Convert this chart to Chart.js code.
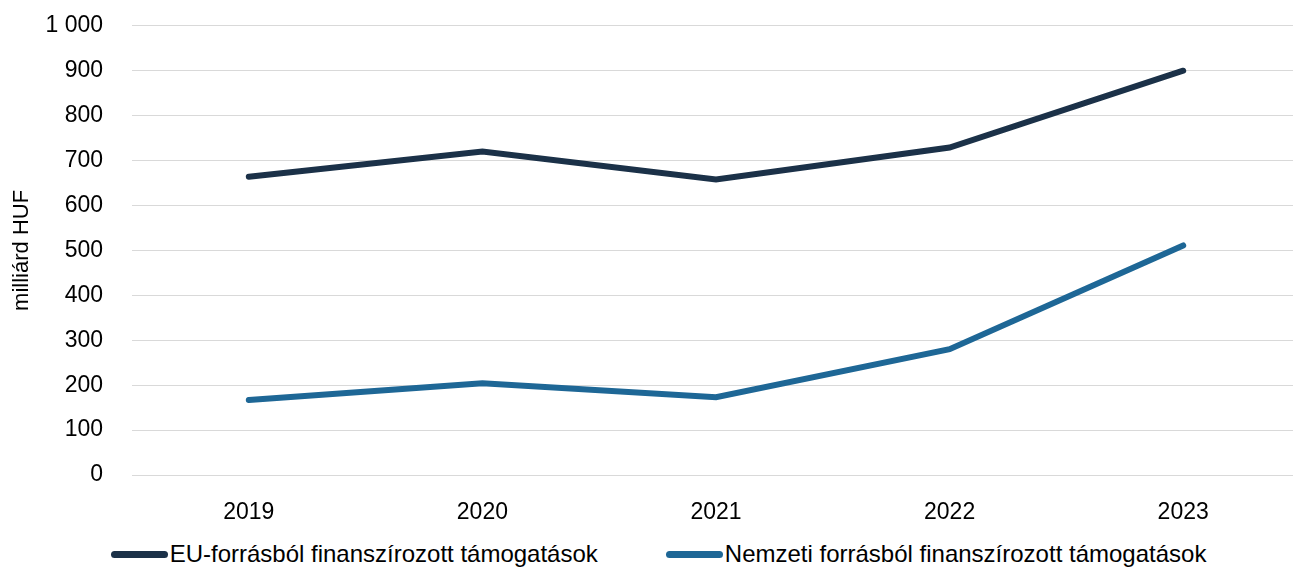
<!DOCTYPE html>
<html>
<head>
<meta charset="utf-8">
<script src="https://cdn.jsdelivr.net/npm/chart.js@4"></script>
<style>
  html, body { margin: 0; padding: 0; background: #fff; overflow: hidden; }
  #page { position: relative; width: 1293px; height: 567px; overflow: hidden; }
  #wrap { position: absolute; left: 0; top: -17px; width: 1300px; height: 539px; }
  #legend {
    position: absolute; left: 12px; top: 540px; width: 1293px; height: 28px;
    display: flex; justify-content: center; align-items: center; gap: 68px;
    font-family: "Liberation Sans", Arial, sans-serif; font-size: 24px; color: #000;
  }
  .item { display: flex; align-items: center; white-space: nowrap; }
  .swatch { display: inline-block; width: 57px; height: 7px; border-radius: 4px; margin-right: 2px; }
</style>
</head>
<body>
<div id="page">
  <div id="wrap"><canvas id="chart"></canvas></div>
  <div id="legend"></div>
</div>
<script>
const years = ['2019', '2020', '2021', '2022', '2023'];
const euValues = [664, 720, 658, 729, 900];
const nemzetiValues = [167, 204, 173, 280, 511];
const yTicks = [0, 100, 200, 300, 400, 500, 600, 700, 800, 900, 1000];
const seriesNames = ['EU-forrásból finanszírozott támogatások', 'Nemzeti forrásból finanszírozott támogatások'];
const seriesColors = ['#1b3148', '#1e6796'];

Chart.defaults.font.family = '"Liberation Sans", Arial, sans-serif';
Chart.defaults.color = '#000';

const ctx = document.getElementById('chart').getContext('2d');
const chart = new Chart(ctx, {
    type: 'line',
    data: {
        labels: years,
        datasets: [{
            label: seriesNames[0],
            data: euValues,
            borderColor: seriesColors[0],
            backgroundColor: seriesColors[0],
            borderWidth: 6,
            borderCapStyle: 'round',
            pointRadius: 0,
            tension: 0
        }, {
            label: seriesNames[1],
            data: nemzetiValues,
            borderColor: seriesColors[1],
            backgroundColor: seriesColors[1],
            borderWidth: 6,
            borderCapStyle: 'round',
            pointRadius: 0,
            tension: 0
        }]
    },
    options: {
        responsive: true,
        maintainAspectRatio: false,
        animation: false,
        layout: { padding: { top: 0, left: 9, right: 0, bottom: 0 } },
        scales: {
            x: {
                offset: true,
                grid: { display: false },
                border: { display: false },
                ticks: { font: { size: 23 }, padding: 16 },
                afterFit: function(axis) { axis.height = 47; }
            },
            y: {
                min: 0,
                max: 1000,
                afterBuildTicks: function(axis) {
                    axis.ticks = yTicks.map(v => ({ value: v }));
                },
                afterFit: function(axis) { axis.width = 123; },
                grid: { color: '#d9d9d9', lineWidth: 1, drawTicks: false },
                border: { display: false },
                ticks: {
                    font: { size: 23 },
                    padding: 29,
                    callback: function(value) {
                        return String(value).replace(/\B(?=(\d{3})+(?!\d))/g, ' ');
                    }
                },
                title: {
                    display: true,
                    text: 'milliárd HUF',
                    font: { size: 22 },
                    padding: { top: 0, bottom: 10 }
                }
            }
        },
        plugins: {
            legend: { display: false },
            tooltip: { enabled: false }
        }
    }
});

// legenda HTML-ben
const legend = document.getElementById('legend');
seriesNames.forEach(function(name, i) {
    const item = document.createElement('span');
    item.className = 'item';
    const sw = document.createElement('span');
    sw.className = 'swatch';
    sw.style.background = seriesColors[i];
    item.appendChild(sw);
    item.appendChild(document.createTextNode(name));
    legend.appendChild(item);
});
</script>
</body>
</html>
